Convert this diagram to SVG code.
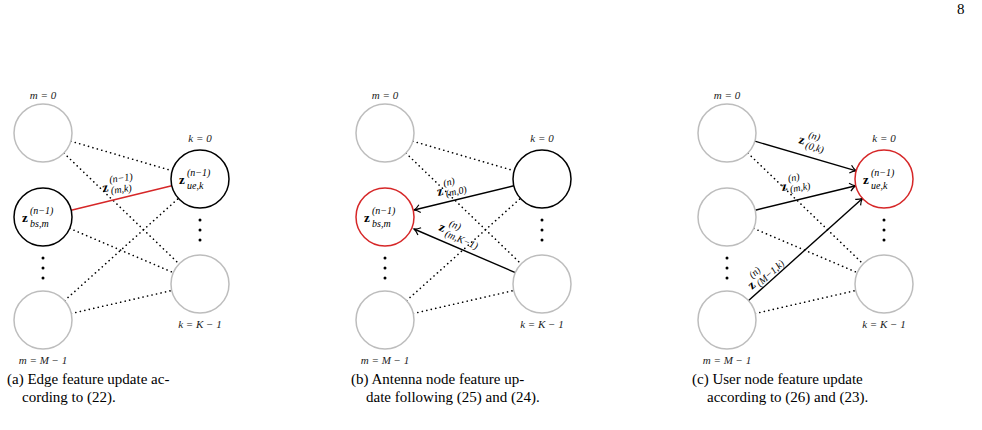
<svg xmlns="http://www.w3.org/2000/svg" width="982" height="430" viewBox="0 0 982 430">
<style>
.g{fill:#fff;stroke:#bdbdbd;stroke-width:1.5}
.b{fill:#fff;stroke:#000;stroke-width:1.5}
.r{fill:#fff;stroke:#d62728;stroke-width:1.5}
.d{stroke:#000;stroke-width:1.6;stroke-dasharray:0.1 4.5;stroke-linecap:round;fill:none}
.a{stroke:#000;stroke-width:1.4;fill:none;marker-end:url(#ar)}
.t{font-family:"Liberation Serif",serif;font-style:italic;font-size:11px;fill:#222}
.z{font-family:"Liberation Serif",serif;font-weight:bold;font-size:13px}
.s{font-family:"Liberation Serif",serif;font-style:italic;font-size:10px}
.c{font-family:"Liberation Serif",serif;font-size:15px;fill:#000}
.dot{fill:#000}
</style>
<defs>
<marker id="ar" markerWidth="10" markerHeight="10" refX="8" refY="5" orient="auto" markerUnits="userSpaceOnUse"><path d="M2,1 Q5,4 8,5 Q5,6 2,9" fill="none" stroke="#000" stroke-width="1.2"/></marker>
<g id="dv"><circle cx="0" cy="0" r="1.5" class="dot"/><circle cx="0" cy="10" r="1.5" class="dot"/><circle cx="0" cy="20" r="1.5" class="dot"/></g>
</defs>
<text x="957" y="14" class="c" font-size="11">8</text>

<g id="panel-a">
<g id="a-connectors">
<line class="d" x1="70.8" y1="141.2" x2="172.2" y2="170.8"/>
<line class="d" x1="63.9" y1="153.1" x2="179.1" y2="263.9"/>
<line class="d" x1="64.6" y1="300.6" x2="178.4" y2="198.4"/>
<line class="d" x1="71.3" y1="313.5" x2="171.7" y2="290.5"/>
<line class="d" x1="69.7" y1="228.4" x2="173.3" y2="272.6"/>
<line x1="71.2" y1="210.2" x2="171.8" y2="185.8" stroke="#d62728" stroke-width="1.5"/>
</g>
<g id="a-m0"><circle class="g" cx="43" cy="133" r="29"/><text class="t" x="43" y="99" text-anchor="middle">m = 0</text></g>
<g id="a-m"><circle class="b" cx="43" cy="217" r="29"/><text x="22" y="222"><tspan class="z">z</tspan></text><text class="s" x="30" y="214">(n−1)</text><text class="s" x="30" y="227">bs,m</text></g>
<g id="a-mM"><circle class="g" cx="43" cy="320" r="29"/><text class="t" x="43" y="364" text-anchor="middle">m = M − 1</text></g>
<g id="a-k0"><circle class="b" cx="200" cy="179" r="29"/><text class="t" x="200" y="142" text-anchor="middle">k = 0</text><text x="179" y="184"><tspan class="z">z</tspan></text><text class="s" x="187" y="176">(n−1)</text><text class="s" x="187" y="189">ue,k</text></g>
<g id="a-kK"><circle class="g" cx="200" cy="284" r="29"/><text class="t" x="200" y="328" text-anchor="middle">k = K − 1</text></g>
<use href="#dv" x="43" y="258"/><use href="#dv" x="200" y="220"/>
<g transform="translate(103,192) rotate(-8)"><text class="z" x="0" y="0">z</text><text class="s" x="8" y="-8">(n−1)</text><text class="s" x="8" y="3">(m,k)</text></g>
</g>

<g id="panel-b" transform="translate(342,0)">
<g id="b-connectors">
<line class="d" x1="70.8" y1="141.2" x2="172.2" y2="170.8"/>
<line class="d" x1="63.9" y1="153.1" x2="179.1" y2="263.9"/>
<line class="d" x1="64.6" y1="300.6" x2="178.4" y2="198.4"/>
<line class="d" x1="71.3" y1="313.5" x2="171.7" y2="290.5"/>
<line class="a" x1="171.8" y1="185.8" x2="72" y2="210"/>
<line class="a" x1="173.3" y1="272.6" x2="72" y2="229"/>
</g>
<g id="b-m0"><circle class="g" cx="43" cy="133" r="29"/><text class="t" x="43" y="99" text-anchor="middle">m = 0</text></g>
<g id="b-m"><circle class="r" cx="43" cy="217" r="29"/><text x="22" y="222"><tspan class="z">z</tspan></text><text class="s" x="30" y="214">(n−1)</text><text class="s" x="30" y="227">bs,m</text></g>
<g id="b-mM"><circle class="g" cx="43" cy="320" r="29"/><text class="t" x="43" y="364" text-anchor="middle">m = M − 1</text></g>
<g id="b-k0"><circle class="b" cx="200" cy="179" r="29"/><text class="t" x="200" y="142" text-anchor="middle">k = 0</text></g>
<g id="b-kK"><circle class="g" cx="200" cy="284" r="29"/><text class="t" x="200" y="328" text-anchor="middle">k = K − 1</text></g>
<use href="#dv" x="43" y="258"/><use href="#dv" x="200" y="220"/>
<g transform="translate(96,196) rotate(-13)"><text class="z" x="0" y="0">z</text><text class="s" x="8" y="-8">(n)</text><text class="s" x="8" y="3">(m,0)</text></g>
<g transform="translate(96,230) rotate(23)"><text class="z" x="0" y="0">z</text><text class="s" x="8" y="-8">(n)</text><text class="s" x="8" y="3">(m,K−1)</text></g>
</g>

<g id="panel-c" transform="translate(684,0)">
<g id="c-connectors">
<line class="a" x1="70.8" y1="141.2" x2="172.2" y2="170.8"/>
<line class="d" x1="63.9" y1="153.1" x2="179.1" y2="263.9"/>
<line class="a" x1="64.6" y1="300.6" x2="178.4" y2="198.4"/>
<line class="d" x1="71.3" y1="313.5" x2="171.7" y2="290.5"/>
<line class="d" x1="69.7" y1="228.4" x2="173.3" y2="272.6"/>
<line class="a" x1="71.2" y1="210.2" x2="171.8" y2="185.8"/>
</g>
<g id="c-m0"><circle class="g" cx="43" cy="133" r="29"/><text class="t" x="43" y="99" text-anchor="middle">m = 0</text></g>
<g id="c-m"><circle class="g" cx="43" cy="217" r="29"/></g>
<g id="c-mM"><circle class="g" cx="43" cy="320" r="29"/><text class="t" x="43" y="364" text-anchor="middle">m = M − 1</text></g>
<g id="c-k0"><circle class="r" cx="200" cy="179" r="29"/><text class="t" x="200" y="142" text-anchor="middle">k = 0</text><text x="179" y="184"><tspan class="z">z</tspan></text><text class="s" x="187" y="176">(n−1)</text><text class="s" x="187" y="189">ue,k</text></g>
<g id="c-kK"><circle class="g" cx="200" cy="284" r="29"/><text class="t" x="200" y="328" text-anchor="middle">k = K − 1</text></g>
<use href="#dv" x="43" y="258"/><use href="#dv" x="200" y="220"/>
<g transform="translate(114,143) rotate(16)"><text class="z" x="0" y="0">z</text><text class="s" x="8" y="-8">(n)</text><text class="s" x="8" y="3">(0,k)</text></g>
<g transform="translate(98,191) rotate(-10)"><text class="z" x="0" y="0">z</text><text class="s" x="8" y="-8">(n)</text><text class="s" x="8" y="3">(m,k)</text></g>
<g transform="translate(68,290) rotate(-42)"><text class="z" x="0" y="0">z</text><text class="s" x="8" y="-8">(n)</text><text class="s" x="8" y="3">(M−1,k)</text></g>
</g>

<g id="captions">
<text class="c" x="7" y="384">(a) Edge feature update ac-</text>
<text class="c" x="22" y="402">cording to (22).</text>
<text class="c" x="351" y="384">(b) Antenna node feature up-</text>
<text class="c" x="366" y="402">date following (25) and (24).</text>
<text class="c" x="692" y="384">(c) User node feature update</text>
<text class="c" x="707" y="402">according to (26) and (23).</text>
</g>
</svg>
